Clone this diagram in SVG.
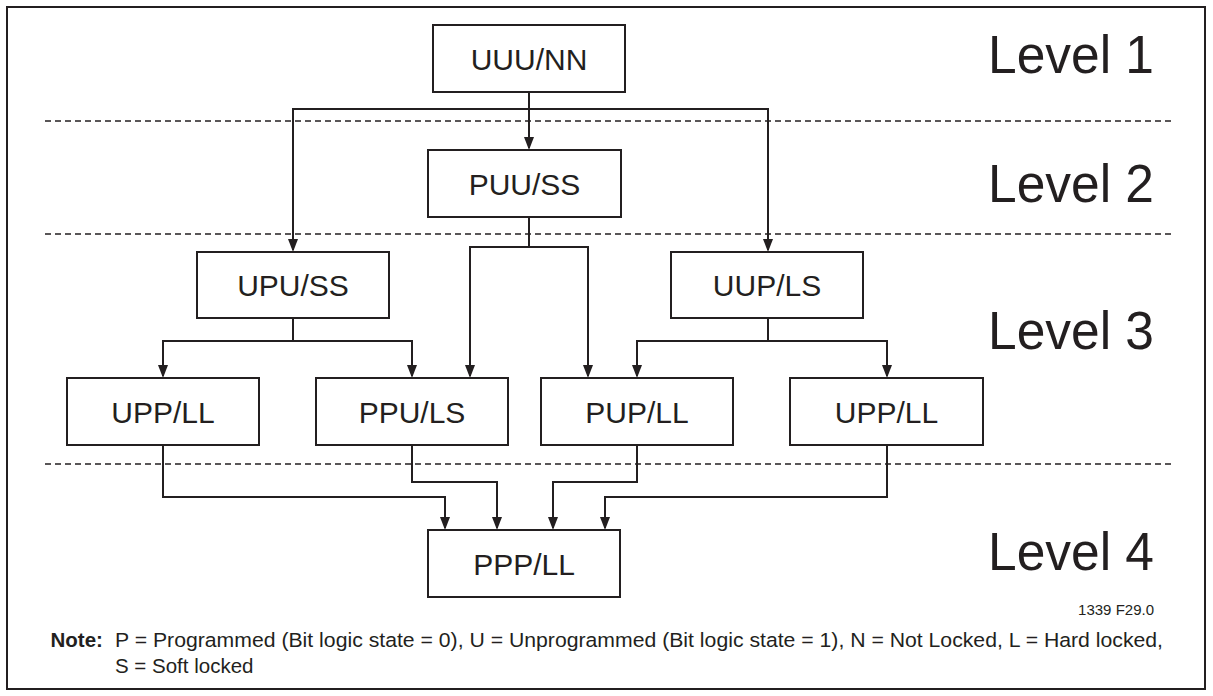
<svg xmlns="http://www.w3.org/2000/svg" width="1213" height="696" viewBox="0 0 1213 696">
<style>
.box{fill:#fff;stroke:#231f20;stroke-width:2}
.bt{font-family:"Liberation Sans",Arial,sans-serif;font-size:30px;fill:#231f20;text-anchor:middle}
.lv{font-family:"Liberation Sans",Arial,sans-serif;font-size:53px;fill:#231f20}
.dash{stroke:#231f20;stroke-width:1.5;stroke-dasharray:6 4;fill:none}
.con{fill:none;stroke:#231f20;stroke-width:2;marker-end:url(#arr)}
.note{font-family:"Liberation Sans",Arial,sans-serif;font-size:20.5px;fill:#231f20}
</style>
<defs>
<marker id="arr" markerUnits="userSpaceOnUse" viewBox="0 0 13 10" refX="11" refY="5" markerWidth="13" markerHeight="10" orient="auto">
<path d="M0,0 L13,5 L0,10 Z" fill="#231f20"/>
</marker>
</defs>
<rect x="7" y="7" width="1198" height="682" fill="#fff" stroke="#231f20" stroke-width="2"/>
<g id="levels">
<line class="dash" x1="45" y1="121" x2="1171" y2="121"/>
<line class="dash" x1="45" y1="234" x2="1171" y2="234"/>
<line class="dash" x1="45" y1="464" x2="1171" y2="464"/>
<text class="lv" x="988" y="73" textLength="166" lengthAdjust="spacingAndGlyphs">Level 1</text>
<text class="lv" x="988" y="202" textLength="166" lengthAdjust="spacingAndGlyphs">Level 2</text>
<text class="lv" x="988" y="349" textLength="166" lengthAdjust="spacingAndGlyphs">Level 3</text>
<text class="lv" x="988" y="570" textLength="166" lengthAdjust="spacingAndGlyphs">Level 4</text>
</g>
<g id="connectors">
<path class="con" d="M529,92 V148"/>
<path class="con" d="M529,109 H293 V250"/>
<path class="con" d="M529,109 H768 V250"/>
<path class="con" d="M529,217 V247 H470 V376"/>
<path class="con" d="M529,247 H588 V376"/>
<path class="con" d="M293,318 V341 H163 V376"/>
<path class="con" d="M293,341 H412 V376"/>
<path class="con" d="M768,318 V341 H637 V376"/>
<path class="con" d="M768,341 H887 V376"/>
<path class="con" d="M163,445 V497 H445 V528"/>
<path class="con" d="M412,445 V482 H497 V528"/>
<path class="con" d="M637,445 V482 H553 V528"/>
<path class="con" d="M887,445 V497 H605 V528"/>
</g>
<g id="n-uuu-nn"><rect class="box" x="433" y="25" width="192" height="67"/><text class="bt" x="529" y="69.5">UUU/NN</text></g>
<g id="n-puu-ss"><rect class="box" x="428" y="150" width="193" height="67"/><text class="bt" x="524.5" y="194.5">PUU/SS</text></g>
<g id="n-upu-ss"><rect class="box" x="197" y="252" width="192" height="66"/><text class="bt" x="293" y="296">UPU/SS</text></g>
<g id="n-uup-ls"><rect class="box" x="671" y="252" width="192" height="66"/><text class="bt" x="767" y="296">UUP/LS</text></g>
<g id="n-upp-ll-1"><rect class="box" x="67" y="378" width="192" height="67"/><text class="bt" x="163" y="422.5">UPP/LL</text></g>
<g id="n-ppu-ls"><rect class="box" x="316" y="378" width="192" height="67"/><text class="bt" x="412" y="422.5">PPU/LS</text></g>
<g id="n-pup-ll"><rect class="box" x="541" y="378" width="192" height="67"/><text class="bt" x="637" y="422.5">PUP/LL</text></g>
<g id="n-upp-ll-2"><rect class="box" x="790" y="378" width="193" height="67"/><text class="bt" x="886.5" y="422.5">UPP/LL</text></g>
<g id="n-ppp-ll"><rect class="box" x="428" y="530" width="192" height="67"/><text class="bt" x="524" y="574.5">PPP/LL</text></g>
<g id="notes">
<text class="note" x="1154" y="615" style="font-size:15px;text-anchor:end">1339 F29.0</text>
<text class="note" x="50.5" y="647" style="font-weight:bold">Note:</text>
<text class="note" x="115" y="647" textLength="1048" lengthAdjust="spacingAndGlyphs">P = Programmed (Bit logic state = 0), U = Unprogrammed (Bit logic state = 1), N = Not Locked, L = Hard locked,</text>
<text class="note" x="115" y="673">S = Soft locked</text>
</g>
</svg>
